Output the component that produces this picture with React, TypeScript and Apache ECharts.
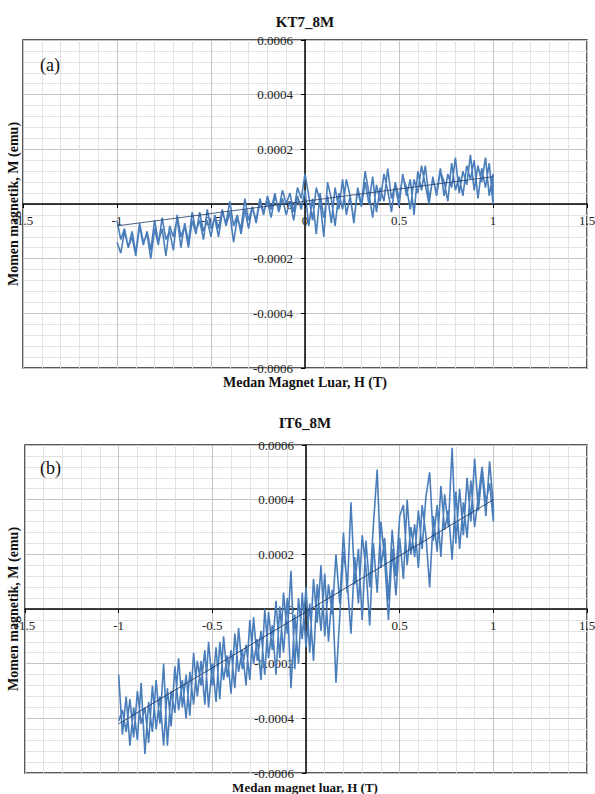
import React, { useEffect, useRef } from "react";
import * as echarts from "echarts";

// Applied field H (T), swept -1 -> 1 (and back in reverse order)
const H_GRID = [
  -1.0, -0.98, -0.96, -0.94, -0.92, -0.9, -0.88, -0.86, -0.84, -0.82,
  -0.8, -0.78, -0.76, -0.74, -0.72, -0.7, -0.68, -0.66, -0.64, -0.62,
  -0.6, -0.58, -0.56, -0.54, -0.52, -0.5, -0.48, -0.46, -0.44, -0.42,
  -0.4, -0.38, -0.36, -0.34, -0.32, -0.3, -0.28, -0.26, -0.24, -0.22,
  -0.2, -0.18, -0.16, -0.14, -0.12, -0.1, -0.08, -0.06, -0.04, -0.02,
  0.0, 0.02, 0.04, 0.06, 0.08, 0.1, 0.12, 0.14, 0.16, 0.18,
  0.2, 0.22, 0.24, 0.26, 0.28, 0.3, 0.32, 0.34, 0.36, 0.38,
  0.4, 0.42, 0.44, 0.46, 0.48, 0.5, 0.52, 0.54, 0.56, 0.58,
  0.6, 0.62, 0.64, 0.66, 0.68, 0.7, 0.72, 0.74, 0.76, 0.78,
  0.8, 0.82, 0.84, 0.86, 0.88, 0.9, 0.92, 0.94, 0.96, 0.98, 1.0,
];

// Magnetic moment in units of 1e-4 emu
const M_UNIT = 1e-4;

// (a) KT7_8M — ascending branch (H from -1 to 1)
const KT7_UP = [
  -0.6, -1.3, -0.9, -1.6, -1.0, -1.8, -0.7, -1.4, -1.1, -2.0,
  -0.9, -1.5, -0.5, -1.3, -1.0, -1.7, -0.4, -1.2, -0.8, -1.6,
  -0.6, -1.1, -0.3, -1.0, -0.6, -1.2, -0.4, -0.9, -0.2, -0.8,
  -0.3, -1.4, -0.5, -0.9, 0.2, -0.6, -0.1, -0.7, 0.1, -0.4,
  0.3, -0.2, 0.4, -0.3, 0.2, -0.4, 0.1, -0.6, 0.3, -0.2,
  0.5, -0.8, 0.2, -1.1, 0.4, -0.5, 0.3, -0.7, 0.6, -0.2,
  0.9, -0.4, 0.3, -0.6, 0.5, -0.1, 0.8, 0.0, 1.0, -0.3,
  0.6, 0.1, 1.3, 0.2, 0.7, -0.1, 1.1, 0.3, 0.9, -0.4,
  1.2, 0.5, 1.4, 0.2, 0.9, 0.4, 1.3, 0.3, 1.1, 0.6,
  1.7, 0.4, 1.2, 0.7, 1.8, 0.5, 1.4, 0.8, 1.7, 0.3, 1.1,
];
// (a) KT7_8M — descending branch (H from 1 to -1)
const KT7_DOWN = [
  0.0, 1.5, 0.6, 1.3, 0.2, 1.6, 0.9, 1.4, 0.3, 1.0,
  0.5, 1.5, 0.1, 0.8, 1.2, 0.3, 1.0, 0.0, 0.7, 1.4,
  0.4, 0.9, -0.2, 0.6, 1.0, 0.2, 0.8, -0.3, 0.5, 1.1,
  0.1, 0.7, -0.5, 0.4, 1.2, 0.0, 0.6, -0.7, 0.3, 0.9,
  -0.2, 0.4, -0.8, 0.2, 0.8, -1.2, 0.1, 0.6, -0.6, 0.3,
  1.1, 0.2, 0.6, -0.3, 0.4, 0.0, 0.5, -0.2, 0.3, -0.5,
  0.1, -0.3, 0.2, -0.6, -0.1, -0.9, -0.2, -1.1, -0.4, -0.8,
  0.1, -0.7, -0.3, -1.2, -0.5, -0.9, -0.2, -1.3, -0.6, -1.0,
  -0.3, -1.4, -0.7, -1.6, -0.5, -1.2, -0.8, -1.9, -0.9, -1.4,
  -0.6, -1.7, -1.0, -1.5, -0.8, -1.9, -1.2, -1.6, -1.0, -1.8, -1.4,
];
const KT7_TREND_H = [-1, 1];
const KT7_TREND_M = [-0.8, 1.0];

// (b) IT6_8M — ascending branch (H from -1 to 1)
const IT6_UP = [
  -2.4, -4.6, -3.2, -5.0, -3.6, -4.8, -2.7, -5.3, -3.4, -4.5,
  -2.6, -4.2, -2.0, -5.0, -3.0, -3.8, -1.8, -3.6, -2.4, -3.9,
  -1.6, -3.2, -1.9, -3.5, -1.2, -2.8, -1.4, -3.3, -1.0, -2.5,
  -1.5, -2.9, -0.7, -2.2, -1.3, -2.6, -0.3, -1.9, -0.8, -2.4,
  -0.1, -1.5, 0.3, -1.8, 0.6, -0.9, 1.4, -2.2, 0.4, -1.1,
  0.8, -1.6, 1.1, -0.5, 1.6, -1.0, 0.9, -0.2, 2.0, 0.2,
  2.8, 0.6, 3.9, 0.9, 2.2, -0.4, 2.5, 0.8, 3.1, 5.1,
  1.5, 2.6, 0.3, 2.9, 1.2, 3.4, 3.8, 1.6, 3.0, 1.9,
  3.6, 2.2, 4.1, 5.0, 2.5, 3.8, 1.9, 4.2, 3.0, 5.9,
  2.4, 4.4, 2.7, 4.8, 3.2, 5.5, 3.6, 5.0, 3.4, 5.4, 3.8,
];
// (b) IT6_8M — descending branch (H from 1 to -1)
const IT6_DOWN = [
  3.2, 4.6, 3.9, 5.2, 4.1, 3.0, 4.7, 2.6, 3.9, 2.2,
  4.3, 1.8, 3.6, 2.9, 4.5, 2.1, 3.4, 0.8, 2.7, 3.8,
  1.5, 3.1, 2.0, 4.0, 1.1, 2.6, 0.5, 2.2, -0.4, 1.8,
  3.2, 0.6, 2.4, -0.6, 1.5, 2.7, 0.2, 1.9, -0.9, 1.0,
  2.1, -0.3, -2.7, 0.7, -1.2, 1.3, -0.8, 0.9, -1.9, 0.2,
  -1.4, 0.6, -2.0, -0.2, -2.9, 0.4, -1.6, 0.1, -2.4, -0.6,
  -1.8, 0.0, -2.6, -1.1, -2.0, -0.4, -2.8, -1.5, -2.3, -0.9,
  -3.1, -1.7, -2.6, -1.2, -3.4, -2.0, -3.6, -1.5, -2.8, -1.9,
  -3.5, -2.3, -4.0, -2.6, -3.7, -2.1, -4.3, -2.9, -5.0, -3.2,
  -4.4, -2.8, -4.9, -3.6, -4.2, -3.0, -4.7, -3.3, -4.5, -3.7, -4.1,
];
const IT6_TREND_H = [-1, 1];
const IT6_TREND_M = [-4.2, 4.0];

const X_MIN = -1.5;
const X_MAX = 1.5;
const X_INTERVAL = 0.5;
const Y_MIN = -0.0006;
const Y_MAX = 0.0006;
const Y_INTERVAL = 0.0002;

const FONT = "'Liberation Serif', 'Times New Roman', serif";
const LINE_BLUE = "#4A7EBB";
const TREND_BLUE = "#1F3A66";

const GRIDS = [
  { left: 23, top: 40, width: 564, height: 328 },
  { left: 25, top: 445, width: 562, height: 328 },
];

function loopData(up: number[], down: number[]) {
  const n = H_GRID.length;
  const a = up.map((m, i) => [H_GRID[i], m * M_UNIT]);
  const b = down.map((m, i) => [H_GRID[n - 1 - i], m * M_UNIT]);
  return a.concat(b);
}
function trendData(h: number[], m: number[]) {
  return h.map((v, i) => [v, m[i] * M_UNIT]);
}

function fmtY(v: number) {
  if (Math.abs(v) < 1e-12) return "0";
  return v.toFixed(4);
}
function fmtX(v: number) {
  if (Math.abs(v) < 1e-12) return "0";
  return String(Math.round(v * 10) / 10);
}

function makeX(gridIndex: number) {
  return {
    type: "value",
    gridIndex,
    position: "bottom",
    offset: -GRIDS[gridIndex].height / 2,
    min: X_MIN,
    max: X_MAX,
    interval: X_INTERVAL,
    axisLine: { onZero: false, lineStyle: { color: "#000", width: 1.5 } },
    axisTick: { show: true, length: 4, lineStyle: { color: "#000" } },
    axisLabel: { formatter: fmtX, fontFamily: FONT, fontSize: 13, color: "#222", margin: 10 },
    splitLine: { show: true, lineStyle: { color: "#c4c4c4", width: 1 } },
    minorTick: { show: false, splitNumber: 5 },
    minorSplitLine: { show: true, lineStyle: { color: "#e2e2e2", width: 1 } },
  };
}
function makeY(gridIndex: number) {
  return {
    type: "value",
    gridIndex,
    position: "left",
    offset: -GRIDS[gridIndex].width / 2,
    min: Y_MIN,
    max: Y_MAX,
    interval: Y_INTERVAL,
    axisLine: { onZero: false, lineStyle: { color: "#000", width: 1.5 } },
    axisTick: { show: true, length: 4, lineStyle: { color: "#000" } },
    axisLabel: { formatter: fmtY, fontFamily: FONT, fontSize: 13, color: "#222", margin: 12 },
    splitLine: { show: true, lineStyle: { color: "#c4c4c4", width: 1 } },
    minorTick: { show: false, splitNumber: 5 },
    minorSplitLine: { show: true, lineStyle: { color: "#e2e2e2", width: 1 } },
  };
}

function txt(text: string, x: number, y: number, opts: any = {}) {
  return {
    type: "text",
    x,
    y,
    rotation: opts.rotation || 0,
    z: 10,
    style: {
      text,
      fontFamily: FONT,
      fontSize: opts.fontSize || 14,
      fontWeight: opts.bold ? "bold" : "normal",
      fill: "#111",
      align: opts.align || "center",
      verticalAlign: "middle",
    },
  };
}

export default function App() {
  const ref = useRef<HTMLDivElement>(null);
  useEffect(() => {
    if (!ref.current) return;
    const chart = echarts.init(ref.current, undefined, { renderer: "svg" });
    chart.setOption({
      animation: false,
      backgroundColor: "#fff",
      grid: GRIDS.map((g) => ({
        ...g,
        show: true,
        borderColor: "#222",
        borderWidth: 1.5,
        backgroundColor: "transparent",
        containLabel: false,
        outerBoundsMode: "none",
      })),
      xAxis: [makeX(0), makeX(1)],
      yAxis: [makeY(0), makeY(1)],
      series: [
        {
          type: "line", xAxisIndex: 0, yAxisIndex: 0, showSymbol: false,
          data: loopData(KT7_UP, KT7_DOWN),
          lineStyle: { color: LINE_BLUE, width: 1.6 }, itemStyle: { color: LINE_BLUE },
        },
        {
          type: "line", xAxisIndex: 0, yAxisIndex: 0, showSymbol: false,
          data: trendData(KT7_TREND_H, KT7_TREND_M),
          lineStyle: { color: TREND_BLUE, width: 0.8 }, z: 3,
        },
        {
          type: "line", xAxisIndex: 1, yAxisIndex: 1, showSymbol: false,
          data: loopData(IT6_UP, IT6_DOWN),
          lineStyle: { color: LINE_BLUE, width: 1.6 }, itemStyle: { color: LINE_BLUE },
        },
        {
          type: "line", xAxisIndex: 1, yAxisIndex: 1, showSymbol: false,
          data: trendData(IT6_TREND_H, IT6_TREND_M),
          lineStyle: { color: TREND_BLUE, width: 0.9 }, z: 3,
        },
      ],
      graphic: [
        txt("KT7_8M", 305, 22, { bold: true, fontSize: 15 }),
        txt("(a)", 40, 65, { fontSize: 18, align: "left" }),
        txt("Medan Magnet Luar, H (T)", 305, 382, { bold: true, fontSize: 14 }),
        txt("Momen magnetik, M (emu)", 13, 204, { bold: true, fontSize: 14, rotation: Math.PI / 2 }),
        txt("IT6_8M", 305, 423, { bold: true, fontSize: 15 }),
        txt("(b)", 40, 468, { fontSize: 18, align: "left" }),
        txt("Medan magnet luar, H (T)", 305, 787.5, { bold: true, fontSize: 13 }),
        txt("Momen magnetik, M (emu)", 13, 609, { bold: true, fontSize: 14, rotation: Math.PI / 2 }),
      ],
    });
    return () => chart.dispose();
  }, []);
  return (
    <div
      ref={ref}
      style={{ position: "fixed", left: 0, top: 0, width: 595, height: 794, background: "#fff" }}
    />
  );
}
